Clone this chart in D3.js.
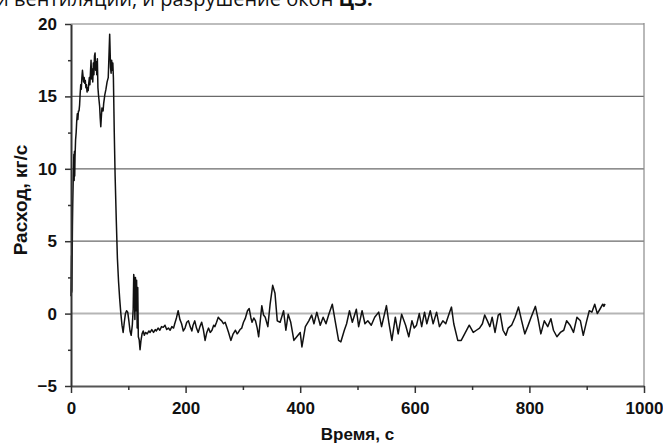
<!DOCTYPE html>
<html>
<head>
<meta charset="utf-8">
<script src="https://cdn.jsdelivr.net/npm/d3@7"></script>
<style>
  body { margin: 0; background: #fff; }
  svg { display: block; }
</style>
</head>
<body>
<div id="chart"></div>
<script>
var svgWidth = 663;
var svgHeight = 443;

// time, s
var timeSec = [
  0, 1, 1.5, 2, 2.5, 3, 4, 5, 5.5, 6, 6.5, 7, 8, 9, 10, 11, 12, 13, 14, 15,
  16, 17, 18, 19, 20, 21, 22, 23, 24, 25, 26, 27, 28, 29, 30, 31, 32, 33, 34, 35,
  36, 37, 38, 39, 40, 41, 42, 43, 44, 45, 46, 47, 48, 50, 51, 52, 53, 54, 56, 57,
  59, 61, 63, 65, 66, 67.5, 69, 70, 71, 72, 73, 74, 75.5, 77, 79, 81, 83, 85, 87, 89,
  91, 93, 95, 97, 99, 101, 103, 105, 107, 108.5, 109.5, 110.5, 111.5, 112.5, 113.5, 114.5, 115.5, 116.5, 117.5, 119,
  120.5, 122, 124, 126, 128, 130, 133, 136, 138, 141, 144, 147, 149, 152, 155, 158, 161, 164, 167, 170,
  173, 176, 179, 181, 184, 187, 190, 193, 196, 199, 202, 205, 208, 211, 213, 216, 219, 222, 225, 228,
  231, 234, 237, 240, 243, 246, 249, 251, 254, 257, 260, 263, 266, 269, 272, 275, 279, 283, 287, 290,
  292, 295, 298, 301, 304, 308, 311, 314, 316, 319, 322, 325, 327.5, 333, 336, 339, 343.5, 347.5, 352, 356,
  360, 365, 371, 375, 379, 383.5, 389, 394, 400, 403, 409, 415, 420, 424, 429, 435, 440, 445, 450, 456,
  461, 467, 471, 477, 481, 486, 491, 498, 502, 508, 513, 518, 524, 530, 537, 542, 550.5, 555, 560, 566,
  571, 577, 584, 589.5, 595, 599, 603, 607.8, 612, 617, 621, 627, 632, 638, 643, 649, 654, 660, 664, 668,
  675, 681, 687, 695, 702, 707.5, 713, 718, 722, 726.7, 731, 735, 740, 745.6, 749, 754, 759, 763, 769, 775,
  781, 786.5, 792, 797, 803, 810.5, 815, 820, 826, 832, 837.5, 842, 848, 854, 860, 865, 871, 877, 883, 889,
  894, 900, 904.5, 909, 914, 918.5, 923, 928, 930, 932
];

// flow rate, kg/s
var flowRate = [
  1.2, 4.0, 1.5, 3.8, 6.0, 7.5, 9.5, 11.0, 9.2, 11.2, 9.5, 10.8, 12.0, 12.5, 13.3, 13.8, 13.4, 14.0, 14.0, 14.4,
  15.2, 15.8, 15.5, 16.3, 16.8, 16.4, 16.0, 16.3, 15.9, 16.1, 15.6, 15.8, 15.3, 15.6, 15.4, 15.9, 16.3, 15.8, 16.7, 17.5,
  16.2, 16.9, 16.0, 17.3, 16.5, 17.8, 18.0, 16.8, 17.4, 16.5, 17.6, 15.6, 15.1, 14.3, 13.5, 12.9, 13.6, 14.2, 14.0, 14.5,
  15.1, 15.5, 16.0, 16.3, 17.5, 19.3, 17.0, 16.6, 17.5, 16.8, 17.3, 16.3, 12.5, 9.5, 6.5, 3.8, 2.2, 1.0, 0.0, -0.8,
  -1.3, -0.6, 0.0, 0.2, 0.1, -0.5, -1.2, -1.5, -0.8, 0.3, 2.7, 2.3, -0.4, 2.5, 0.2, 2.3, -1.0, 1.8, -1.6, -1.8,
  -2.5, -1.9, -1.4, -1.2, -1.5, -1.3, -1.4, -1.2, -1.3, -1.1, -1.3, -1.1, -1.2, -1.0, -1.15, -0.9, -0.95, -0.8, -1.1, -1.0,
  -1.15, -0.9, -1.0, -0.7, -0.3, 0.2, -0.4, -0.7, -1.2, -1.0, -0.6, -0.5, -0.9, -1.2, -0.8, -0.5, -1.0, -1.3, -0.9, -0.6,
  -1.1, -1.85, -1.3, -1.0, -1.3, -1.15, -0.8, -0.9, -0.6, -0.25, -0.4, -0.5, -0.7, -0.6, -0.95, -1.3, -1.85, -1.4, -1.15, -1.4,
  -1.3, -1.1, -1.0, -0.6, -0.35, 0.2, 0.35, -0.3, -0.6, -0.3, -0.5, -1.0, -1.6, 0.55, -0.1, -0.25, -0.9, 0.65, 1.95, 1.4,
  -0.5, -0.6, 0.2, -1.15, -0.05, -0.6, -1.85, -1.6, -1.3, -2.3, -0.9, -0.5, -0.1, -0.7, 0.1, -0.8, -0.25, -0.7, -0.05, 0.65,
  -0.5, -1.85, -1.95, -1.15, -0.7, 0.2, -0.6, 0.3, -0.9, 0.2, -0.7, -0.5, -0.8, -0.25, 0.1, -0.9, 0.55, -0.7, -1.85, -0.25,
  -1.4, -0.05, -0.8, -1.6, -0.5, -1.0, -0.8, 0.0, -0.9, 0.1, -0.7, 0.2, -0.7, 0.1, -0.9, -0.5, -0.7, 0.0, 0.45, -0.7,
  -1.85, -1.85, -1.4, -0.8, -1.3, -1.15, -1.0, -0.7, -0.1, -0.5, -0.9, -0.25, -1.3, -0.1, 0.0, -1.15, -1.5, -1.0, -0.8, -0.25,
  0.45, -0.5, -1.4, -0.9, -0.25, 0.5, -0.35, -1.4, -0.5, -0.9, -0.35, -1.15, -1.6, -1.3, -1.15, -0.5, -0.8, -1.3, -0.25, -0.5,
  -1.5, -0.5, 0.2, 0.1, 0.65, 0.0, 0.3, 0.65, 0.5, 0.67
];

var xTicks = [0, 200, 400, 600, 800, 1000];
var xMinorTicks = [100, 300, 500, 700, 900];
var yTicks = [-5, 0, 5, 10, 15, 20];
var yMinorTicks = [-2.5, 2.5, 7.5, 12.5, 17.5];

var data = timeSec.map(function(t, i) {
  return { t: t, v: flowRate[i] };
});

var plotLeft = 71, plotRight = 644, plotTop = 24, plotBottom = 386;

var svg = d3.select("#chart")
  .append("svg")
  .attr("width", svgWidth)
  .attr("height", svgHeight);

var xScale = d3.scaleLinear().domain([0, 1000]).range([plotLeft, plotRight]);
var yScale = d3.scaleLinear().domain([-5, 20]).range([plotBottom, plotTop]);

// text cut off from the page above the chart
svg.append("text")
  .attr("x", -4)
  .attr("y", 6)
  .style("font-family", "'Open Sans', sans-serif")
  .style("font-size", "20px")
  .attr("fill", "#111")
  .text("и вентиляции, и разрушение окон ")
  .append("tspan")
  .style("font-weight", "bold")
  .text("ЦЗ.");

// horizontal grid lines
var gridStyle = { 20: ["#bdbdbd", 2], 15: ["#6a6a6a", 1.2], 10: ["#6a6a6a", 1.2], 5: ["#6a6a6a", 1.2], 0: ["#b5b5b5", 2] };
svg.append("g")
  .selectAll("line")
  .data([20, 15, 10, 5, 0])
  .enter()
  .append("line")
  .attr("x1", plotLeft)
  .attr("x2", plotRight)
  .attr("y1", function(d) { return yScale(d); })
  .attr("y2", function(d) { return yScale(d); })
  .attr("stroke", function(d) { return gridStyle[d][0]; })
  .attr("stroke-width", function(d) { return gridStyle[d][1]; });

// right border
svg.append("line")
  .attr("x1", plotRight).attr("x2", plotRight)
  .attr("y1", plotTop - 1).attr("y2", plotBottom)
  .attr("stroke", "#8a8a8a")
  .attr("stroke-width", 1.2);

// the line
var lineGenerator = d3.line()
  .x(function(d) { return xScale(d.t); })
  .y(function(d) { return yScale(d.v); });

svg.append("path")
  .datum(data)
  .attr("d", lineGenerator)
  .attr("fill", "none")
  .attr("stroke", "#111")
  .attr("stroke-width", 1.5)
  .attr("stroke-linejoin", "round");

// axes
var fontFamily = "'Liberation Sans', Arial, sans-serif";

var xAxis = svg.append("g")
  .attr("transform", "translate(0," + plotBottom + ")")
  .call(d3.axisBottom(xScale).tickValues(xTicks).tickSize(7).tickSizeOuter(0).tickPadding(9)
    .tickFormat(function(d) { return String(d); }));

svg.append("g")
  .attr("transform", "translate(0," + plotBottom + ")")
  .call(d3.axisBottom(xScale).tickValues(xMinorTicks).tickSize(4).tickFormat(""))
  .select(".domain").remove();

var yAxis = svg.append("g")
  .attr("transform", "translate(" + plotLeft + ",0)")
  .call(d3.axisLeft(yScale).tickValues(yTicks).tickSize(6).tickSizeOuter(0).tickPadding(8)
    .tickFormat(function(d) { return d < 0 ? "\u2212" + Math.abs(d) : String(d); }));

svg.append("g")
  .attr("transform", "translate(" + plotLeft + ",0)")
  .call(d3.axisLeft(yScale).tickValues(yMinorTicks).tickSize(3).tickFormat(""))
  .select(".domain").remove();

svg.selectAll(".tick text")
  .style("font-family", fontFamily)
  .style("font-weight", "bold")
  .style("font-size", "17px")
  .attr("fill", "#111");

svg.selectAll(".tick line").attr("stroke", "#333").attr("stroke-width", 1.5);
xAxis.select(".domain").attr("stroke", "#555").attr("stroke-width", 2);
yAxis.select(".domain").attr("stroke", "#333").attr("stroke-width", 2);

// axis titles
svg.append("text")
  .attr("x", (plotLeft + plotRight) / 2)
  .attr("y", 440)
  .attr("text-anchor", "middle")
  .style("font-family", fontFamily)
  .style("font-weight", "bold")
  .style("font-size", "17px")
  .attr("fill", "#111")
  .text("Время, с");

svg.append("text")
  .attr("transform", "translate(27,200) rotate(-90)")
  .attr("text-anchor", "middle")
  .style("font-family", fontFamily)
  .style("font-weight", "bold")
  .style("font-size", "19px")
  .attr("fill", "#111")
  .text("Расход, кг/с");
</script>
</body>
</html>
